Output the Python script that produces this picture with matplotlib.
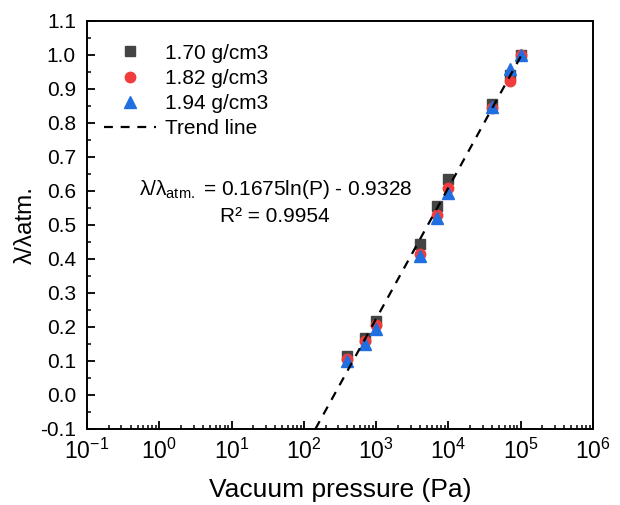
import matplotlib
matplotlib.use("Agg")
import matplotlib.pyplot as plt
import matplotlib.ticker as ticker
import numpy as np

plt.rcParams['font.family'] = ['Liberation Sans', 'DejaVu Sans']
plt.rcParams['mathtext.fontset'] = 'custom'
plt.rcParams['mathtext.rm'] = 'Liberation Sans'
plt.rcParams['mathtext.it'] = 'Liberation Sans:italic'

# data
pressure = [400, 700, 1000, 4000, 7000, 10000, 40000, 70000, 100000]
d170 = [0.115, 0.168, 0.218, 0.444, 0.555, 0.635, 0.855, 0.94, 1.0]
d182 = [0.105, 0.160, 0.205, 0.415, 0.530, 0.610, 0.845, 0.925, 1.0]
d194 = [0.100, 0.150, 0.195, 0.410, 0.522, 0.595, 0.848, 0.960, 1.0]
slope, intercept = 0.1675, -0.9328

fig = plt.figure(figsize=(6.2, 5.05), dpi=100)
ax = fig.add_axes([87/620, 1 - 429/505, (593-87)/620, (429-21)/505])

ax.plot(pressure, d170, 's', color='#444444', ms=7, label='1.70 g/cm3', zorder=3)
ax.plot(pressure, d182, 'o', color='#f03c3c', ms=7.5, label='1.82 g/cm3', zorder=4)
ax.plot(pressure, d194, '^', color='#1f6fe0', ms=8, label='1.94 g/cm3', zorder=5)

p_start = np.exp((-0.1 - intercept) / slope)
pp = np.logspace(np.log10(p_start), 5, 100)
ax.plot(pp, slope * np.log(pp) + intercept, '--', color='black', lw=1.6,
        dashes=(4, 3.5), label='Trend line', zorder=6)

ax.set_xscale('log')
ax.set_xlim(1e-1, 1e6)
ax.set_ylim(-0.1, 1.1)
ax.yaxis.set_major_locator(ticker.MultipleLocator(0.1))
ax.yaxis.set_minor_locator(ticker.MultipleLocator(0.05))
ax.yaxis.set_major_formatter(ticker.FormatStrFormatter('%.1f'))
ax.xaxis.set_major_locator(ticker.LogLocator(base=10, numticks=20))
ax.xaxis.set_minor_locator(ticker.LogLocator(base=10, subs=np.arange(2, 10), numticks=20))
ax.xaxis.set_minor_formatter(ticker.NullFormatter())
ax.xaxis.set_major_formatter(ticker.FuncFormatter(lambda v, p: r'$\mathregular{10^{%d}}$' % round(np.log10(v))))

ax.tick_params(which='both', direction='in', top=False, right=False)
ax.tick_params(which='major', length=6, width=1.3)
ax.tick_params(which='minor', length=3, width=1.1)
ax.tick_params(axis='x', pad=7, labelsize=16.5)
ax.tick_params(axis='y', pad=8, labelsize=15)
for s in ax.spines.values():
    s.set_linewidth(1.4)

ax.set_xlabel('Vacuum pressure (Pa)', fontsize=19, labelpad=10)
ax.set_ylabel('λ/λatm.', fontsize=17.5, labelpad=2)

ax.text(0.372, 0.586, r'λ/λ$_{\mathregular{atm.}}$ = 0.1675ln(P) - 0.9328', transform=ax.transAxes,
        ha='center', va='center', fontsize=15)
ax.text(0.372, 0.522, 'R² = 0.9954', transform=ax.transAxes,
        ha='center', va='center', fontsize=15)

ax.legend(loc='upper left', bbox_to_anchor=(0.005, 0.98), frameon=False, fontsize=15,
          handlelength=2.5, handletextpad=0.4, labelspacing=0.3, borderaxespad=0.3)

fig.savefig('out.png', dpi=100)
